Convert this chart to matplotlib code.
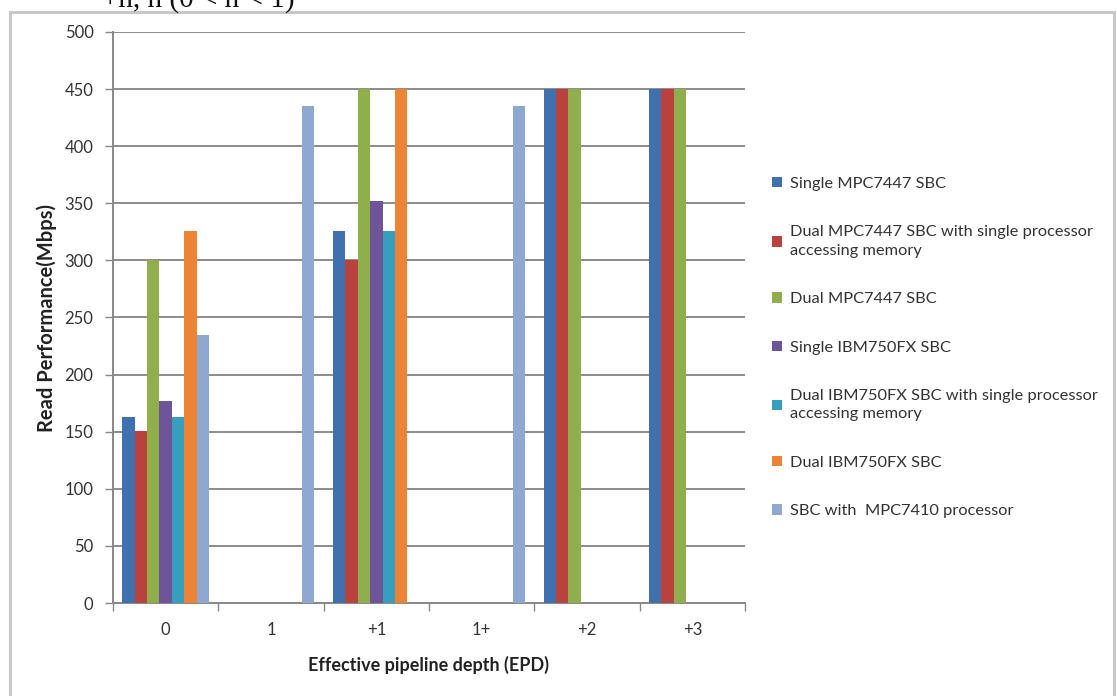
import numpy as np
import matplotlib
matplotlib.use("Agg")
import matplotlib.pyplot as plt
from matplotlib.patches import Rectangle

plt.rcParams['font.family'] = ['Lato', 'DejaVu Sans']

categories = ["0", "1", "+1", "1+", "+2", "+3"]
series_names = [
    "Single MPC7447 SBC",
    "Dual MPC7447 SBC with single processor\naccessing memory",
    "Dual MPC7447 SBC",
    "Single IBM750FX SBC",
    "Dual IBM750FX SBC with single processor\naccessing memory",
    "Dual IBM750FX SBC",
    "SBC with  MPC7410 processor",
]
nan = np.nan
single_mpc7447 = [163, nan, 326, nan, 450, 450]
dual_mpc7447_single = [151, nan, 300, nan, 450, 450]
dual_mpc7447 = [300, nan, 450, nan, 450, 450]
single_ibm750fx = [177, nan, 352, nan, nan, nan]
dual_ibm750fx_single = [163, nan, 326, nan, nan, nan]
dual_ibm750fx = [326, nan, 450, nan, nan, nan]
sbc_mpc7410 = [235, 435, nan, 435, nan, nan]
y_ticks = [0, 50, 100, 150, 200, 250, 300, 350, 400, 450, 500]

series = [single_mpc7447, dual_mpc7447_single, dual_mpc7447, single_ibm750fx,
          dual_ibm750fx_single, dual_ibm750fx, sbc_mpc7410]
colors = ['#4170AE', '#BA423E', '#8FAE4C', '#6E5498', '#369FBE', '#EB8535', '#8EA8D1']

W, H = 1117, 696
fig = plt.figure(figsize=(W / 100, H / 100), dpi=100)
ax = fig.add_axes([113 / W, 1 - 603 / H, (745 - 113) / W, (603 - 32) / H])

n = len(series)
bw = 1 / (n + 1.5)
x = np.arange(len(categories))
for i, (vals, c, name) in enumerate(zip(series, colors, series_names)):
    ax.bar(x + (i - (n - 1) / 2) * bw, vals, width=bw, color=c, label=name, zorder=3)

ax.set_xlim(-0.5, len(categories) - 0.5)
ax.set_ylim(0, 500)
ax.set_yticks(y_ticks)
ax.set_xticks(x)
ax.set_xticklabels(categories)
ax.set_xticks(np.arange(-0.5, len(categories)), minor=True)
ax.tick_params(axis='x', which='major', length=0, pad=14, labelsize=12, colors='#333333')
ax.tick_params(axis='x', which='minor', length=6, color='#888888', width=1)
ax.tick_params(axis='y', length=6, color='#888888', width=1, labelsize=12, labelcolor='#333333', pad=8)
ax.yaxis.grid(True, color='#8C8C8C', linewidth=1.4, zorder=0)
ax.set_axisbelow(True)
for s in ['top', 'right']:
    ax.spines[s].set_visible(False)
for s in ['left', 'bottom']:
    ax.spines[s].set_color('#888888')
    ax.spines[s].set_linewidth(1.4)

ax.set_ylabel("Read Performance(Mbps)", fontsize=14.5, fontweight='bold', color='#222222')
ax.yaxis.set_label_coords(-(113 - 57) / (745 - 113), 0.5)
ax.set_xlabel("Effective pipeline depth (EPD)", fontsize=13, fontweight='bold', color='#222222')
ax.xaxis.set_label_coords(0.5, -(656 - 603) / (603 - 32))

leg = fig.legend(loc='upper left', bbox_to_anchor=(772 / W, 1 - 177 / H), frameon=False,
                 fontsize=11.8, handlelength=0.6, handleheight=0.6, handletextpad=0.5,
                 labelspacing=2.1, labelcolor='#333333', borderaxespad=0, borderpad=0)
for t in leg.get_texts():
    t.set_linespacing(1.4)

# outer frame
fig.patches.append(Rectangle((10 / W, -0.1), (1114 - 10) / W, (H - 12) / H + 0.1,
                             transform=fig.transFigure, fill=False, edgecolor='#C8C8C8',
                             linewidth=2.2, zorder=0))
# clipped document text above the chart
fig.text(102 / W, 1.0, "+n, n (0 < n < 1)", family='Liberation Serif', fontsize=21,
         va='center', ha='left', color='#111111')

fig.savefig("out.png", dpi=100)
